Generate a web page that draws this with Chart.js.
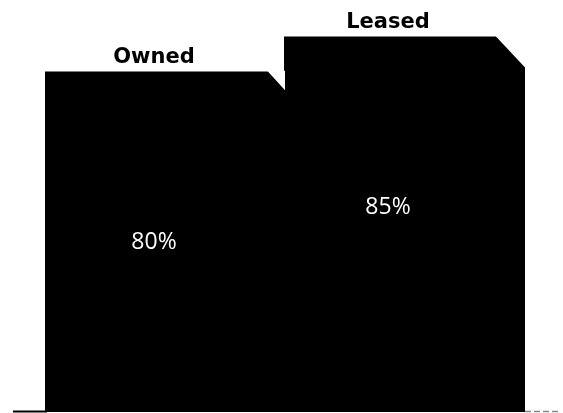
<!DOCTYPE html>
<html><head><meta charset="utf-8">
<script src="https://cdn.jsdelivr.net/npm/chart.js@4"></script>
<style>html,body{margin:0;padding:0;background:#fff;overflow:hidden}#wrap{width:563px;height:413px;position:relative}</style>
</head><body><div id="wrap"><canvas id="c"></canvas></div>
<script>
// Data
const categories = ['Owned', 'Leased'];
const values = [80, 85];
const valueLabels = ['80%', '85%'];
// Axis range (truncated axis, as in the picture)
const axisMin = 31.5;
const axisMax = 90.36;
// Styling
const chamferSize = [18, 30];
const labelShiftX = [-11, -17];

const deco = {
  id: 'deco',
  beforeDatasetsDraw(chart) {
    const ctx = chart.ctx, a = chart.chartArea;
    const y = a.bottom - 0.5;
    ctx.save();
    ctx.strokeStyle = '#000';
    ctx.lineWidth = 2;
    ctx.beginPath();
    ctx.moveTo(a.left - 32, y);
    ctx.lineTo(a.left + 2, y);
    ctx.stroke();
    ctx.strokeStyle = '#888';
    ctx.lineWidth = 1.5;
    ctx.setLineDash([6, 3]);
    ctx.beginPath();
    ctx.moveTo(a.right, y);
    ctx.lineTo(a.right + 34, y);
    ctx.stroke();
    ctx.restore();
  },
  afterDatasetsDraw(chart) {
    const ctx = chart.ctx;
    const meta = chart.getDatasetMeta(0);
    meta.data.forEach((el, i) => {
      const p = el.getProps(['x', 'y', 'base', 'width'], true);
      const left = p.x - p.width / 2, right = p.x + p.width / 2;
      const c = chamferSize[i];
      ctx.save();
      ctx.beginPath();
      ctx.rect(left, p.y - 2, p.width, p.base - p.y + 2);
      ctx.clip();
      ctx.fillStyle = '#fff';
      ctx.beginPath();
      ctx.moveTo(right - c, p.y - 2);
      ctx.lineTo(right + 2, p.y - 2);
      ctx.lineTo(right + 2, p.y + c + 2);
      ctx.closePath();
      ctx.fill();
      ctx.restore();

      ctx.save();
      ctx.textAlign = 'center';
      ctx.textBaseline = 'middle';
      ctx.fillStyle = '#000';
      ctx.font = 'bold 21px "DejaVu Sans"';
      ctx.fillText(categories[i], p.x + labelShiftX[i], p.y - 15);
      ctx.fillStyle = '#fff';
      ctx.font = '23px "Open Sans"';
      ctx.fillText(valueLabels[i], p.x + labelShiftX[i], p.y + 170);
      ctx.restore();
    });
  }
};

new Chart(document.getElementById('c'), {
  type: 'bar',
  data: {
    labels: categories,
    datasets: [{
      data: values,
      backgroundColor: '#000',
      borderWidth: 0,
      inflateAmount: 1,
      barPercentage: 1,
      categoryPercentage: 1
    }]
  },
  options: {
    responsive: true,
    maintainAspectRatio: false,
    animation: false,
    layout: { padding: { left: 45, right: 38, top: 0, bottom: 1 } },
    plugins: { legend: { display: false }, tooltip: { enabled: false } },
    scales: {
      x: { display: false },
      y: { display: false, min: axisMin, max: axisMax }
    }
  },
  plugins: [deco]
});
</script>
</body></html>
